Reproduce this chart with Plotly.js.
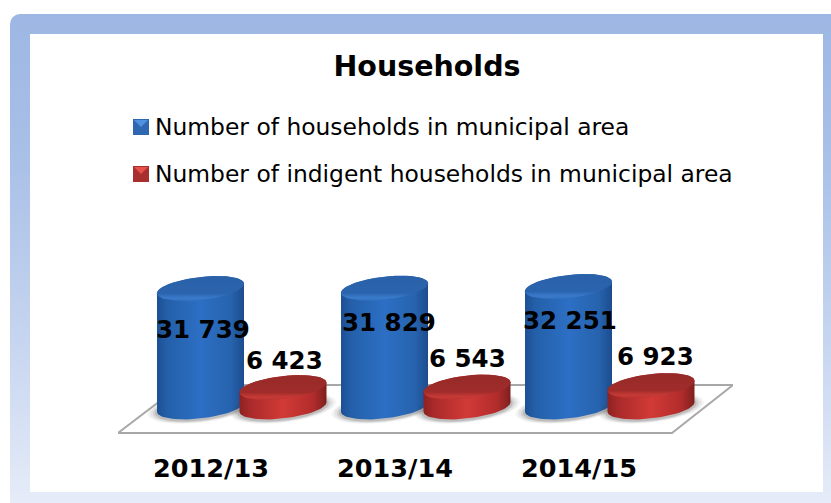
<!DOCTYPE html>
<html><head><meta charset="utf-8">
<script src="https://cdn.plot.ly/plotly-3.0.1.min.js"></script>
<style>
html,body{margin:0;padding:0;background:#fff;width:831px;height:503px;overflow:hidden}
#frame{position:absolute;left:10px;top:14px;width:821px;height:489px;border-radius:10px 0 0 0;background:linear-gradient(180deg,#9db7e4 0%,#a9c0e7 30%,#c9d7f0 70%,#e6ecf8 100%)}
#panel{position:absolute;left:30px;top:34px;width:793px;height:458px;background:#fff}
#chart{position:absolute;left:0;top:0;width:831px;height:503px}
</style></head><body>
<div id="frame"></div><div id="panel"></div><div id="chart"></div>
<script>
const categories = ["2012/13", "2013/14", "2014/15"];
const households = [31739, 31829, 32251];
const indigent = [6423, 6543, 6923];
const seriesNames = ["Number of households in municipal area", "Number of indigent households in municipal area"];
const chartTitle = "Households";

const FONT = "DejaVu Sans, sans-serif";
// Plot area in page pixels and the value scale of the perspective chart
const L = 118, R = 733, T = 250, B = 445, BASE_PX = 407;
const unitsPerPx = 255.7, baseValue = 1436, pxPerCat = 184, cat0Px = 211;
const xAt = px => (px - cat0Px) / pxPerCat;
const vAt = px => baseValue + (BASE_PX - px) * unitsPerPx;
const blueShift = (200.5 - cat0Px) / pxPerCat, redShift = (283 - cat0Px) / pxPerCat;
const tilt = 0.11, semiA = 43.5, semiB = 11.5;

// y in data is upward; the right side of each ellipse is higher on screen
function ellipsePts(cx, cyV, sa, sb, from, to, n) {
  const xs = [], ys = [];
  for (let k = 0; k <= n; k++) {
    const t = from + (to - from) * k / n;
    const dx = sa * semiA * Math.cos(t), dy = sb * semiB * Math.sin(t);
    xs.push(cx + dx / pxPerCat);
    ys.push(cyV + (dy + dx * tilt) * unitsPerPx);
  }
  return [xs, ys];
}
const geom = (xs, ys, extra) => Object.assign({type:"scatter", mode:"lines", x:xs, y:ys, xaxis:"x", yaxis:"y2",
  fill:"toself", line:{width:0}, hoverinfo:"skip", showlegend:false}, extra);

const traces = [];
// real bars carrying the values (covered by the cylinder shading)
traces.push({type:"bar", name:seriesNames[0], x:categories.map((c,i)=>i+blueShift), y:households, width:0.42, marker:{color:"#2a66b4"}, yaxis:"y", xaxis:"x", showlegend:false});
traces.push({type:"bar", name:seriesNames[1], x:categories.map((c,i)=>i+redShift), y:indigent, width:0.42, marker:{color:"#b02c2c"}, yaxis:"y", xaxis:"x", showlegend:false});

// floor
traces.push(geom([L, 672, R, 181, L].map(xAt), [433,433,385,385,433].map(vAt), {fillcolor:"#ffffff", line:{color:"#a8a8a8", width:2}}));

const palettes = {
  blue: {side:[[0,"#1d4f93"],[0.12,"#2460a9"],[0.5,"#2c6fc4"],[0.85,"#2763ae"],[1,"#1c4c8e"]],
         top:[[0,"#2a61a8"],[0.7,"#2b64ae"],[0.88,"#3a7acb"],[1,"#3573c2"]]},
  red: {side:[[0,"#8c2222"],[0.12,"#a92a2a"],[0.5,"#d23a36"],[0.85,"#b12c2c"],[1,"#7e1f1f"]],
        top:[[0,"#962a28"],[0.7,"#a02c2a"],[0.88,"#c63a36"],[1,"#bb3431"]]}
};
function cylinder(px, value, pal) {
  const bot = baseValue, top = value;
  // ground shadow
  for (const [s, o] of [[1.22,0.06],[1.16,0.08],[1.10,0.10],[1.05,0.14]]) {
    const [sx, sy] = ellipsePts(px, bot, s, s*1.05, 0, 2*Math.PI, 60);
    traces.push(geom(sx, sy.map(v=>v - 1*unitsPerPx), {fillcolor:`rgba(60,60,60,${o})`}));
  }
  // body
  const [fx, fy] = ellipsePts(px, bot, 1, 1, Math.PI, 2*Math.PI, 40);
  const [tx, ty] = ellipsePts(px, top, 1, 1, 0, Math.PI, 40);
  traces.push(geom(fx.concat(tx), fy.concat(ty), {fillgradient:{type:"horizontal", colorscale:pal.side}}));
  // top face
  const [cx, cy] = ellipsePts(px, top, 1, 1, 0, 2*Math.PI, 60);
  traces.push(geom(cx, cy, {fillgradient:{type:"vertical", colorscale:pal.top.map(([p,c])=>[1-p,c]).reverse()}}));
}
categories.forEach((c,i)=>{
  cylinder(i+blueShift, households[i], palettes.blue);
  cylinder(i+redShift, indigent[i], palettes.red);
});

const fmt = v => String(v).replace(/\B(?=(\d{3})+$)/g, " ");
const labelFont = {family:FONT, size:24.5, color:"#000"};
const blueNudge = [[2.5,41.5],[4,34],[1,34.5]], redNudge = [[1,27.5],[0,29],[4,29.5]];
const annotations = [];
categories.forEach((c,i)=>{
  annotations.push({x:i+blueShift, y:households[i], xref:"x", yref:"y2", text:"<b>"+fmt(households[i])+"</b>", showarrow:false, font:labelFont, xshift:blueNudge[i][0], yshift:-blueNudge[i][1]});
  annotations.push({x:i+redShift, y:indigent[i], xref:"x", yref:"y2", text:"<b>"+fmt(indigent[i])+"</b>", showarrow:false, font:labelFont, xshift:redNudge[i][0], yshift:redNudge[i][1]});
});
// legend text
const legendRows = [127, 174];
const legendColors = [["#2f67b0","#4f93e0"],["#a82f2e","#e8504c"]];
const shapes = [];
seriesNames.forEach((n,i)=>{
  annotations.push({xref:"paper", yref:"paper", x:(153-L)/(R-L), y:(B-legendRows[i])/(B-T), xanchor:"left", yanchor:"middle", text:n, showarrow:false, font:{family:FONT, size:23.4, color:"#000"}});
  const px = v=>(v-L)/(R-L), py = v=>(B-v)/(B-T), y0 = legendRows[i]-8;
  shapes.push({type:"rect", xref:"paper", yref:"paper", x0:px(133), x1:px(149), y0:py(y0), y1:py(y0+16), fillcolor:legendColors[i][0], line:{width:0}});
  shapes.push({type:"path", xref:"paper", yref:"paper", path:`M${px(134)},${py(y0+1)} L${px(148)},${py(y0+1)} L${px(141)},${py(y0+8)} Z`, fillcolor:legendColors[i][1], line:{width:0}});
});

const yTop = vAt(T);
Plotly.newPlot("chart", traces, {
  width:831, height:503,
  margin:{l:L, r:831-R, t:T, b:503-B, pad:0},
  paper_bgcolor:"rgba(0,0,0,0)", plot_bgcolor:"rgba(0,0,0,0)",
  title:{text:"<b>"+chartTitle+"</b>", font:{family:FONT, size:28.5, color:"#000"}, x:427/831, xanchor:"center", y:1-66/503, yanchor:"middle"},
  showlegend:false, barmode:"overlay",
  xaxis:{range:[xAt(L), xAt(R)], tickmode:"array", tickvals:categories.map((c,i)=>i), ticktext:categories, anchor:"y2",
    showgrid:false, zeroline:false, showline:false, ticks:"", ticklabelstandoff:5, tickfont:{family:FONT, size:25.5, color:"#000", weight:"bold"}},
  yaxis:{domain:[(B-BASE_PX)/(B-T),1], range:[baseValue, yTop], visible:false, fixedrange:true},
  yaxis2:{domain:[0,1], range:[vAt(B), yTop], visible:false, anchor:"x", fixedrange:true},
  annotations, shapes
}, {displayModeBar:false, staticPlot:true});
</script></body></html>
